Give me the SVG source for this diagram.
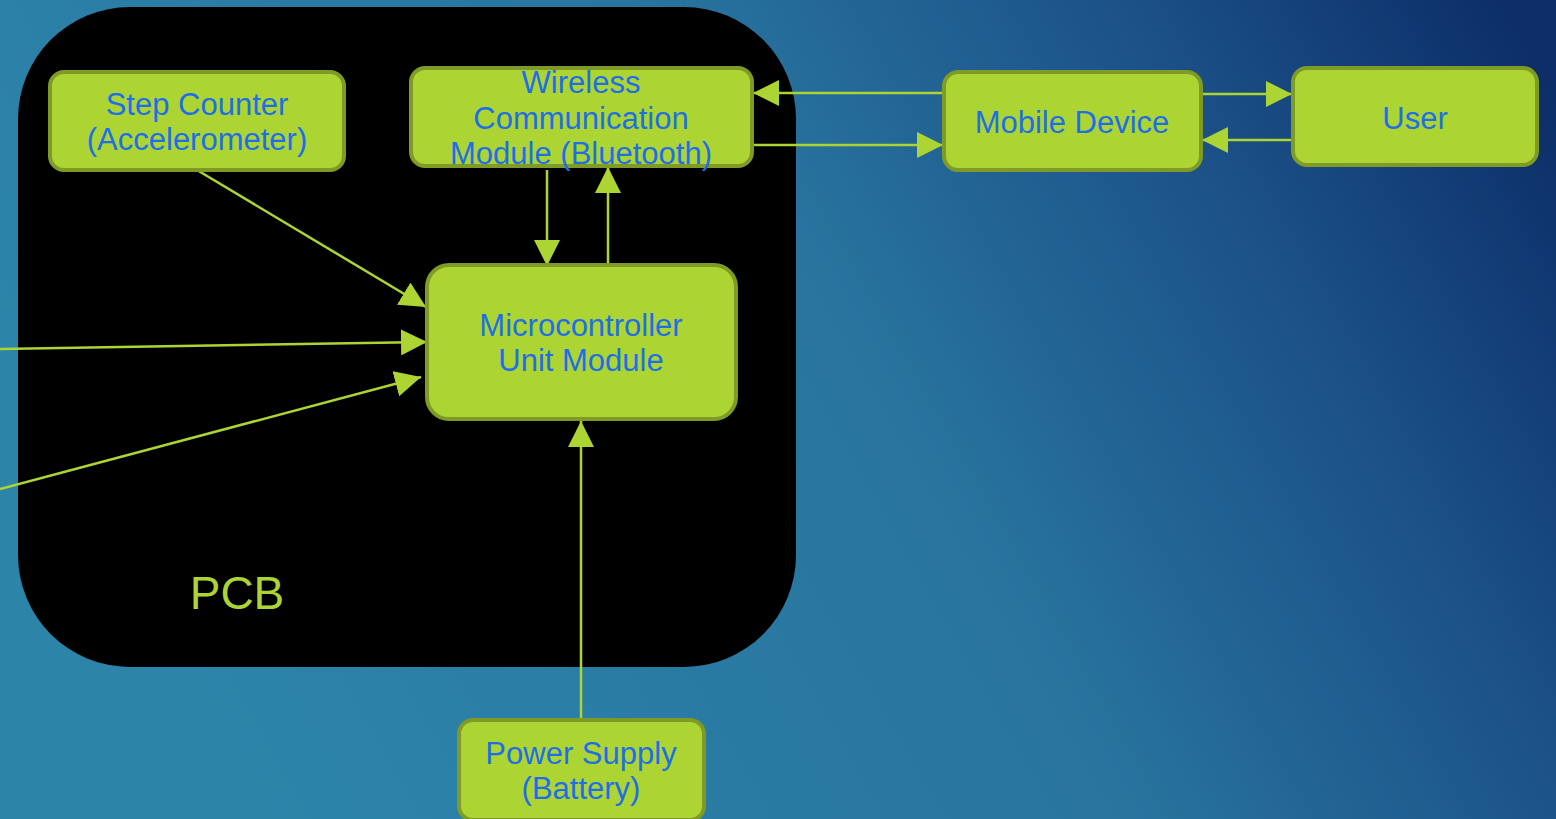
<svg xmlns="http://www.w3.org/2000/svg" width="1556" height="819" viewBox="0 0 1556 819">
<defs>
<linearGradient id="bg" x1="0" y1="0.4" x2="1" y2="0.1">
<stop offset="0" stop-color="#2c84a9"/>
<stop offset="0.5" stop-color="#28749f"/>
<stop offset="0.78" stop-color="#1b5087"/>
<stop offset="1" stop-color="#0c2d68"/>
</linearGradient>
<marker id="ah" markerUnits="userSpaceOnUse" markerWidth="28" markerHeight="26" refX="26" refY="13" orient="auto">
<path d="M0,0 L26,13 L0,26 Z" fill="#acd433"/>
</marker>
<style>
.box{fill:#acd433;stroke:#7f9b25;stroke-width:4}
.lbl{font-family:"Liberation Sans",Arial,sans-serif;font-size:31px;fill:#1e6fe6;text-anchor:middle}
.con line{stroke:#acd433;stroke-width:2.5;marker-end:url(#ah)}
</style>
</defs>
<rect width="1556" height="819" fill="url(#bg)"/>
<g id="pcb">
<rect x="18" y="7" width="778" height="660" rx="112" ry="112" fill="#000"/>
<text x="237" y="609" font-family="Liberation Sans,Arial,sans-serif" font-size="46" fill="#acd433" text-anchor="middle">PCB</text>
</g>
<g class="con" id="connectors">
<line x1="944" y1="93" x2="753" y2="93"/>
<line x1="752" y1="145" x2="943" y2="145"/>
<line x1="1201" y1="94" x2="1292" y2="94"/>
<line x1="1293" y1="140" x2="1202" y2="140"/>
<line x1="547" y1="170" x2="547" y2="266"/>
<line x1="608" y1="265" x2="608" y2="167"/>
<line x1="197" y1="170" x2="426" y2="307"/>
<line x1="0" y1="349" x2="427" y2="342"/>
<line x1="0" y1="489" x2="421" y2="377"/>
<line x1="581" y1="720" x2="581" y2="421"/>
</g>
<g id="step-counter">
<rect class="box" x="50" y="72" width="294" height="98" rx="14"/>
<text class="lbl" x="197" y="115">Step Counter</text>
<text class="lbl" x="197" y="150">(Accelerometer)</text>
</g>
<g id="wireless">
<rect class="box" x="411" y="68" width="341" height="98" rx="14"/>
<text class="lbl" x="581" y="93">Wireless</text>
<text class="lbl" x="581" y="129">Communication</text>
<text class="lbl" x="581" y="164">Module (Bluetooth)</text>
</g>
<g id="mcu">
<rect class="box" x="427" y="265" width="309" height="154" rx="22"/>
<text class="lbl" x="581" y="336">Microcontroller</text>
<text class="lbl" x="581" y="371">Unit Module</text>
</g>
<g id="mobile">
<rect class="box" x="944" y="72" width="257" height="98" rx="14"/>
<text class="lbl" x="1072" y="133">Mobile Device</text>
</g>
<g id="user">
<rect class="box" x="1293" y="68" width="244" height="97" rx="14"/>
<text class="lbl" x="1415" y="129">User</text>
</g>
<g id="power">
<rect class="box" x="459" y="720" width="245" height="100" rx="14"/>
<text class="lbl" x="581" y="764">Power Supply</text>
<text class="lbl" x="581" y="799">(Battery)</text>
</g>
</svg>
